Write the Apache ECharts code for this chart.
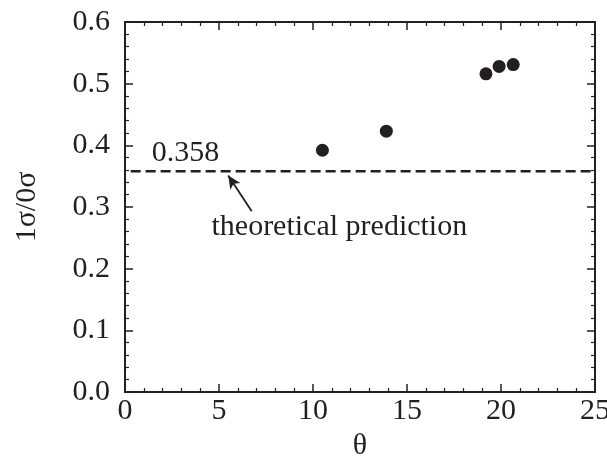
<!DOCTYPE html>
<html>
<head>
<meta charset="utf-8">
<style>
  html, body { margin: 0; padding: 0; background: #ffffff; }
  #chart { width: 607px; height: 461px; }
</style>
<script src="https://cdn.jsdelivr.net/npm/echarts@6/dist/echarts.min.js"></script>
</head>
<body>
<div id="chart"></div>
<script>
// Measured ratio against angle
const thetaValues = [10.5, 13.9, 19.2, 19.9, 20.65];
const ratioValues = [0.392, 0.423, 0.516, 0.528, 0.531];

// Theoretical prediction level
const predictionValue = 0.358;
const predictionLabel = '0.358';
const predictionText = 'theoretical prediction';

// Annotation anchors (data coordinates)
const valueLabelAt = [1.42, 0.387];
const noteLabelAt = [4.6, 0.267];
const arrowFrom = [6.74, 0.293];
const arrowTo = [5.49, 0.351];

const ink = '#231f20';
const font = "'Liberation Serif', 'Times New Roman', serif";

const chart = echarts.init(document.getElementById('chart'), null, { renderer: 'canvas' });

function axisCommon(extra) {
  return Object.assign({
    type: 'value',
    axisLine: { show: true, onZero: false, lineStyle: { color: ink, width: 2 } },
    axisTick: { show: true, inside: true, length: 8, lineStyle: { color: ink, width: 1.5 } },
    minorTick: { show: true, splitNumber: 5, length: 4, lineStyle: { color: ink, width: 1.2 } },
    splitLine: { show: false },
    minorSplitLine: { show: false }
  }, extra);
}

const option = {
  backgroundColor: '#ffffff',
  animation: false,
  grid: { left: 125, right: 12, top: 22, bottom: 69, containLabel: false, outerBoundsMode: 'none' },
  xAxis: [
    axisCommon({
      position: 'bottom', min: 0, max: 25, interval: 5,
      name: 'θ', nameLocation: 'middle', nameGap: 36,
      nameTextStyle: { fontFamily: font, fontSize: 30, color: ink },
      axisLabel: { margin: 4, fontFamily: font, fontSize: 30, color: ink }
    }),
    axisCommon({
      position: 'top', min: 0, max: 25, interval: 5,
      axisLabel: { show: false }
    })
  ],
  yAxis: [
    axisCommon({
      position: 'left', min: 0, max: 0.6, interval: 0.1,
      name: '1σ/0σ', nameLocation: 'middle', nameGap: 83,
      nameTextStyle: { fontFamily: font, fontSize: 30, color: ink },
      axisLabel: {
        margin: 15, fontFamily: font, fontSize: 30, color: ink,
        formatter: v => v.toFixed(1)
      }
    }),
    axisCommon({
      position: 'right', min: 0, max: 0.6, interval: 0.1,
      axisLabel: { show: false }
    })
  ],
  series: [
    {
      // theoretical level as a dashed line across the axis range
      type: 'line',
      data: [[0.3, predictionValue], [25, predictionValue]],
      symbol: 'none',
      lineStyle: { color: ink, width: 2.7, type: [10, 5] },
      silent: true,
      z: 2
    },
    {
      type: 'scatter',
      data: thetaValues.map((t, i) => [t, ratioValues[i]]),
      symbol: 'circle',
      symbolSize: 13,
      itemStyle: { color: ink, opacity: 1 },
      z: 3
    },
    {
      // text annotations and arrow
      type: 'scatter',
      symbolSize: 0,
      silent: true,
      itemStyle: { opacity: 1 },
      data: [
        { value: valueLabelAt, label: { show: true, formatter: predictionLabel, position: 'right', distance: 0 } },
        { value: noteLabelAt, label: { show: true, formatter: predictionText, position: 'right', distance: 0 } }
      ],
      label: { fontFamily: font, fontSize: 30, color: ink, opacity: 1 },
      markLine: {
        silent: true,
        symbol: ['none', 'arrow'],
        symbolSize: [9, 13],
        label: { show: false },
        lineStyle: { color: ink, width: 1.8, type: 'solid', opacity: 1 },
        data: [[{ coord: arrowFrom }, { coord: arrowTo }]]
      },
      z: 4
    }
  ]
};

chart.setOption(option);
</script>
</body>
</html>
